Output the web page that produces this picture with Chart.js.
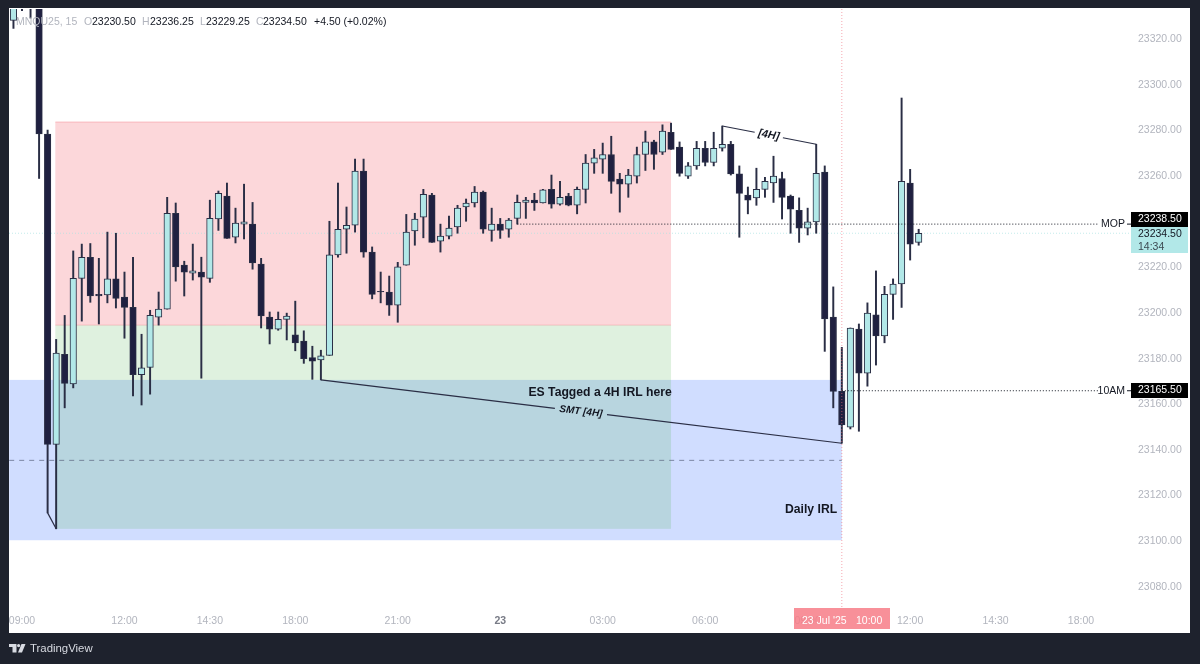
<!DOCTYPE html>
<html>
<head>
<meta charset="utf-8">
<title>MNQU25 15</title>
<script src="https://cdn.jsdelivr.net/npm/chart.js@4/dist/chart.umd.min.js"></script>
<style>
  html, body { margin: 0; padding: 0; background: #1e222d; overflow: hidden; }
  canvas { display: block; }
</style>
</head>
<body>
<canvas id="candle-chart" width="1200" height="664"></canvas>
<script>
// 15 min candles, first one sits one bar before the 09:00 tick
const firstBar = -1;
const opens = [23327.75,23345,23352,23345,23278,23142,23181.5,23168.5,23214.75,23224,23207.75,23207.5,23214.5,23206.5,23202,23172.5,23175.75,23197.75,23201.25,23243.25,23220.5,23217,23217.5,23214.75,23240.75,23250.75,23232.75,23238.5,23238.5,23221,23197.75,23192.5,23196.75,23190,23187.25,23180,23179,23181,23225,23236.25,23238,23261.75,23226.25,23209,23208.75,23203,23220.5,23235.5,23241.5,23251.25,23231,23233.25,23237.25,23246,23247.75,23252.5,23235.75,23238.5,23236.25,23241,23248,23249,23247.75,23253.75,23247.25,23250.75,23246.75,23253.75,23265.25,23267,23269,23258.25,23256,23259.5,23269,23274.5,23270,23278.75,23272.25,23259.5,23264,23271.75,23265.5,23271.75,23273.5,23260.5,23251.25,23250,23253.75,23256.5,23258.5,23250.75,23244.5,23236.75,23239.5,23261.25,23197.75,23165.25,23149.5,23192.5,23173.25,23198.75,23189.5,23207.75,23212.25,23256.5,23230.5];
const highs = [23350,23358,23355,23350,23279.75,23188,23198.5,23226.75,23229.75,23230,23223.5,23235,23234.5,23217.5,23224,23190.25,23200.75,23208.75,23250.25,23247.75,23222.25,23229.75,23224,23249,23253,23256.5,23245.5,23256,23248,23223.5,23200,23200,23199.5,23204.75,23191.75,23185,23183.25,23239.75,23256.5,23246,23267,23267,23228.5,23217.5,23215.75,23221.75,23242.75,23243.25,23253.75,23252,23238.5,23242,23246.75,23249.5,23255,23253,23245.5,23241,23241,23251.25,23250.25,23252,23253.75,23260,23257.25,23252,23254.75,23269,23271.25,23274,23277,23260.75,23262.5,23272.25,23279.25,23275.25,23282,23282.75,23274.5,23265.5,23274.75,23274.75,23278.75,23281.5,23274.75,23264,23254.75,23263,23259,23268.25,23261.25,23251.25,23250,23245.5,23273.5,23264,23211,23184.5,23193,23194.75,23204,23218,23211.25,23214.5,23293.75,23262.5,23236.25];
const lows = [23324.25,23332,23328.75,23258.5,23112,23105,23158,23166.75,23196,23204.25,23194.75,23204,23201.75,23188.5,23163.25,23159.25,23164,23194.25,23201.25,23213.5,23207,23214,23171,23213,23235.75,23232.25,23230.25,23232,23218.75,23193,23186,23192,23187.75,23183,23177.5,23170.5,23170.25,23181,23224,23225.75,23235,23224,23205.75,23204,23198.5,23195.5,23220.5,23229.25,23232.5,23230.5,23226.25,23232,23234.5,23239.75,23246,23234.5,23231,23232.25,23232.75,23238.5,23241,23244.5,23247.75,23245.5,23246.75,23246.5,23243,23247.75,23260.75,23260.75,23252,23243.75,23250.25,23256.5,23262,23262.5,23269,23271.25,23259.5,23258.5,23262.5,23264,23264,23270.5,23260,23232.75,23243,23246.75,23250.25,23248,23240.75,23234.5,23230.5,23233.75,23234.5,23182.75,23158,23142.5,23148.75,23147.75,23167.5,23176.75,23186.5,23196.75,23202,23222.75,23229.25];
const closes = [23345,23352,23345,23278,23142,23182,23168.75,23214.75,23224,23207,23207,23214.5,23206,23202,23172.5,23175.5,23198.5,23201.25,23243.25,23219.75,23217.5,23218,23215.25,23241,23252,23232.25,23239,23239.5,23221.5,23198.25,23192.5,23196.75,23198.25,23186.5,23179.5,23178.5,23180.75,23225,23236.25,23238,23261.75,23226.25,23207.75,23208.75,23203,23219.75,23235,23240.75,23251.5,23230.5,23233.25,23236.75,23245.5,23247.75,23252.5,23236.25,23238.5,23235.75,23240.25,23248,23249,23247.75,23253.5,23247.25,23250.25,23246.75,23253.75,23265.25,23267.5,23269,23257.25,23256,23260,23269,23274.5,23269,23279.25,23271.25,23260.75,23264,23271.75,23265.5,23271.75,23273.5,23260.5,23252,23249,23253.75,23257.25,23259.5,23250.25,23245,23236.75,23239.5,23260.75,23197,23165.25,23150.5,23193,23173.25,23199.5,23189.5,23207.75,23212.25,23257.25,23229.75,23234.5];

const tickBars = [0,12,22,32,44,56,68,80,92,104,114,124];
const tickLabels = ['09:00','12:00','14:30','18:00','21:00','23','03:00','06:00','09:00','12:00','14:30','18:00'];

// price levels of the drawings on the chart
const redZone = [3.9, 76, 23194.25, 23283.25];
const greenZone = [3.9, 76, 23105, 23194.25];
const blueZone = [-1.5, 96, 23100, 23170.25];
const blueMidPrice = 23135;
const mopPrice = 23238.5;
const mopStartBar = 58;
const tenAmPrice = 23165.5;
const tenAmStartBar = 96;
const lastPrice = 23234.5;
const levelEndBar = 126;
const crossBar = 96;
const smtLine = [35, 23170.25, 96, 23142.5];
const smtGapBars = [62.4, 68.5];
const fourHLine = [82, 23281.5, 93, 23273.5];
const fourHGapBars = [85.8, 89.1];
const lowLink = [3, 23112, 4, 23105];

const upColor = '#b2e8e8';
const downColor = '#1f2040';
const edgeColor = '#2a2e45';
const font = '"Liberation Sans", Arial, sans-serif';

const bars = opens.map((o, i) => i + firstBar);
const bodies = opens.map((o, i) => ({x: bars[i], y: [o, closes[i]]}));
const wicks = opens.map((o, i) => ({x: bars[i], y: [lows[i], highs[i]]}));
const bodyColors = opens.map((o, i) => closes[i] >= o ? upColor : downColor);

function drawLine(ctx, x1, y1, x2, y2, color, width, dash) {
  ctx.save();
  ctx.strokeStyle = color;
  ctx.lineWidth = width;
  ctx.setLineDash(dash || []);
  ctx.beginPath();
  ctx.moveTo(x1, y1);
  ctx.lineTo(x2, y2);
  ctx.stroke();
  ctx.restore();
}

function drawText(ctx, text, x, y, fontStr, color, align) {
  ctx.font = fontStr;
  ctx.fillStyle = color;
  ctx.textAlign = align || 'left';
  ctx.textBaseline = 'middle';
  ctx.fillText(text, x, y);
}

// line with a hole in it for a rotated label
function gappedLine(ctx, xs, ys, seg, gap, label, labelFont) {
  const yAt = b => seg[1] + (seg[3] - seg[1]) * (b - seg[0]) / (seg[2] - seg[0]);
  drawLine(ctx, xs(seg[0]), ys(seg[1]), xs(gap[0]), ys(yAt(gap[0])), '#2a2e45', 1.2);
  drawLine(ctx, xs(gap[1]), ys(yAt(gap[1])), xs(seg[2]), ys(seg[3]), '#2a2e45', 1.2);
  const mid = (gap[0] + gap[1]) / 2;
  const angle = Math.atan2(ys(seg[3]) - ys(seg[1]), xs(seg[2]) - xs(seg[0]));
  ctx.save();
  ctx.translate(xs(mid), ys(yAt(mid)));
  ctx.rotate(angle);
  drawText(ctx, label, 0, 0, labelFont, '#131722', 'center');
  ctx.restore();
}

const drawings = {
  id: 'drawings',
  beforeDraw(chart) {
    const ctx = chart.ctx;
    ctx.fillStyle = '#1e222d';
    ctx.fillRect(0, 0, 1200, 664);
    ctx.fillStyle = '#ffffff';
    ctx.fillRect(9, 8, 1181, 625);
  },
  beforeDatasetsDraw(chart) {
    const ctx = chart.ctx;
    const xs = v => chart.scales.x.getPixelForValue(v);
    const ys = v => chart.scales.y.getPixelForValue(v);
    const zone = (z, fill, line) => {
      const left = xs(z[0]), right = xs(z[1]), top = ys(z[3]), bottom = ys(z[2]);
      ctx.fillStyle = fill;
      ctx.fillRect(left, top, right - left, bottom - top);
      if (line) drawLine(ctx, left, top, right, top, line, 1);
    };
    zone(blueZone, 'rgba(41,98,255,0.22)');
    zone(redZone, 'rgba(242,54,69,0.2)', 'rgba(242,54,69,0.25)');
    zone(greenZone, 'rgba(76,175,80,0.18)', 'rgba(242,54,69,0.2)');
    drawLine(ctx, xs(blueZone[0]), ys(blueMidPrice), xs(blueZone[1]), ys(blueMidPrice), 'rgba(90,100,125,0.7)', 1, [5, 5]);
    drawLine(ctx, chart.chartArea.left, ys(lastPrice), chart.chartArea.right, ys(lastPrice), 'rgba(170,225,225,0.7)', 1, [1, 2]);
  },
  afterDatasetsDraw(chart) {
    const ctx = chart.ctx;
    const xs = v => chart.scales.x.getPixelForValue(v);
    const ys = v => chart.scales.y.getPixelForValue(v);

    drawLine(ctx, xs(crossBar), chart.chartArea.top, xs(crossBar), chart.chartArea.bottom, 'rgba(242,110,125,0.6)', 1, [1, 2]);
    drawLine(ctx, xs(mopStartBar), ys(mopPrice), xs(levelEndBar), ys(mopPrice), '#131722', 1, [1, 2]);
    drawLine(ctx, xs(tenAmStartBar), ys(tenAmPrice), xs(levelEndBar), ys(tenAmPrice), '#131722', 1, [1, 2]);
    drawLine(ctx, 1127, ys(mopPrice), 1132, ys(mopPrice), '#131722', 1);
    drawLine(ctx, 1127, ys(tenAmPrice), 1132, ys(tenAmPrice), '#131722', 1);
    drawLine(ctx, xs(lowLink[0]), ys(lowLink[1]), xs(lowLink[2]), ys(lowLink[3]), '#2a2e45', 1.2);

    gappedLine(ctx, xs, ys, smtLine, smtGapBars, 'SMT [4H]', 'italic bold 10px ' + font);
    gappedLine(ctx, xs, ys, fourHLine, fourHGapBars, '[4H]', 'italic bold 11px ' + font);

    drawText(ctx, 'ES Tagged a 4H IRL here', xs(67.7), ys(23164.5), 'bold 12.2px ' + font, '#131722', 'center');
    drawText(ctx, 'Daily IRL', xs(92.4), ys(23113.25), 'bold 12.2px ' + font, '#131722', 'center');
    drawText(ctx, 'MOP', 1125, ys(mopPrice), '10.5px ' + font, '#131722', 'right');
    drawText(ctx, '10AM', 1125, ys(tenAmPrice), '10.5px ' + font, '#131722', 'right');

    // header line
    const gray = '#b2b5be', dark = '#131722', f = '10.5px ' + font;
    drawText(ctx, 'MNQU25, 15', 16, 22, f, gray);
    [['O', 84, '23230.50', 92], ['H', 142, '23236.25', 150], ['L', 200, '23229.25', 206], ['C', 256, '23234.50', 263]].forEach(p => {
      drawText(ctx, p[0], p[1], 22, f, gray);
      drawText(ctx, p[2], p[3], 22, f, dark);
    });
    drawText(ctx, '+4.50 (+0.02%)', 314, 22, f, dark);
  },
  afterDraw(chart) {
    const ctx = chart.ctx;
    const f = '10.5px ' + font;
    // price tags
    ctx.fillStyle = upColor;
    ctx.fillRect(1131, 227, 57, 26);
    drawText(ctx, '23234.50', 1138, 234.5, f, '#131722');
    drawText(ctx, '14:34', 1138, 247, f, '#3c4a52');
    ctx.fillStyle = '#000000';
    ctx.fillRect(1131, 212, 57, 15);
    ctx.fillRect(1131, 383, 57, 15);
    drawText(ctx, '23238.50', 1138, 219.5, f, '#ffffff');
    drawText(ctx, '23165.50', 1138, 390.5, f, '#ffffff');

    // time tag under the crosshair
    ctx.fillStyle = 'rgba(247,125,135,0.85)';
    ctx.fillRect(794, 608, 96, 21);
    drawText(ctx, "23 Jul '25", 802, 621, f, '#ffffff');
    drawText(ctx, '10:00', 856, 621, f, '#ffffff');

    // footer logo
    ctx.fillStyle = '#d8dbe2';
    ctx.fillRect(9, 644, 7.5, 3);
    ctx.fillRect(12.5, 647, 4, 5.5);
    ctx.beginPath();
    ctx.arc(18.6, 645.6, 1.6, 0, Math.PI * 2);
    ctx.fill();
    ctx.beginPath();
    ctx.moveTo(21.5, 644);
    ctx.lineTo(25.5, 644);
    ctx.lineTo(22, 652.5);
    ctx.lineTo(18, 652.5);
    ctx.closePath();
    ctx.fill();
    drawText(ctx, 'TradingView', 30, 649, '11.4px ' + font, '#d8dbe2');
  }
};

new Chart(document.getElementById('candle-chart'), {
  type: 'bar',
  data: {
    datasets: [
      {
        label: 'wicks',
        data: wicks,
        grouped: false,
        order: 2,
        barThickness: 1.3,
        backgroundColor: edgeColor
      },
      {
        label: 'bodies',
        data: bodies,
        grouped: false,
        order: 1,
        barThickness: 6.5,
        backgroundColor: bodyColors,
        borderColor: edgeColor,
        borderWidth: 1,
        borderSkipped: false
      }
    ]
  },
  options: {
    responsive: false,
    animation: false,
    devicePixelRatio: 1,
    layout: { padding: { left: 9, top: 9, right: 10, bottom: 31 } },
    plugins: { legend: { display: false }, tooltip: { enabled: false } },
    scales: {
      x: {
        type: 'linear',
        offset: false,
        min: -1.522,
        max: 129.98,
        grid: { display: false, drawTicks: false },
        border: { display: false },
        afterFit: s => { s.height = 26; s.paddingLeft = 0; s.paddingRight = 0; },
        afterBuildTicks: s => { s.ticks = tickBars.map(v => ({ value: v })); },
        ticks: {
          autoSkip: false,
          maxRotation: 0,
          padding: 8,
          callback: v => tickLabels[tickBars.indexOf(v)],
          color: c => tickLabels[c.index] === '23' ? '#787b86' : '#b2b5be',
          font: c => ({ family: font, size: 10.5, weight: tickLabels[c.index] === '23' ? 'bold' : 'normal' })
        }
      },
      y: {
        position: 'right',
        min: 23070.75,
        max: 23332.75,
        grid: { display: false, drawTicks: false },
        border: { display: false },
        afterFit: s => { s.width = 58; s.paddingTop = 0; s.paddingBottom = 0; },
        afterBuildTicks: s => { s.ticks = s.ticks.filter(t => t.value % 20 === 0); },
        ticks: {
          stepSize: 20,
          padding: 6,
          labelOffset: 1,
          callback: v => v.toFixed(2),
          color: '#b2b5be',
          font: { family: font, size: 10.5 }
        }
      }
    }
  },
  plugins: [drawings]
});
</script>
</body>
</html>
